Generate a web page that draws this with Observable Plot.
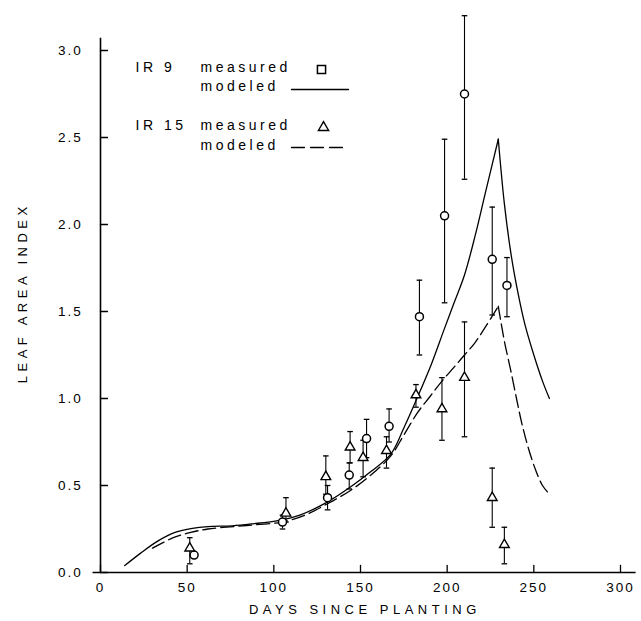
<!DOCTYPE html>
<html><head><meta charset="utf-8">
<script src="https://cdn.jsdelivr.net/npm/d3@7"></script>
<script src="https://cdn.jsdelivr.net/npm/@observablehq/plot@0.6"></script>
<style>
body{margin:0;background:#fff}
svg text{letter-spacing:2px}
</style></head><body><div id="chart"></div>
<script>
// ---- data ----
const xTicks = [0, 50, 100, 150, 200, 250, 300];
const yTicks = [0, 0.5, 1.0, 1.5, 2.0, 2.5, 3.0];
const xLabel = "DAYS SINCE PLANTING";
const yLabel = "LEAF AREA INDEX";

// IR 9 measured
const ir9Day = [54, 105, 131, 143.5, 153.5, 166.5, 184, 198.5, 210, 226, 234.5];
const ir9Lai = [0.10, 0.29, 0.43, 0.56, 0.77, 0.84, 1.47, 2.05, 2.75, 1.80, 1.65];
const ir9Lo  = [null, 0.25, 0.36, 0.48, 0.66, 0.75, 1.25, 1.55, 2.26, 1.48, 1.47];
const ir9Hi  = [null, 0.33, 0.50, 0.63, 0.88, 0.94, 1.68, 2.49, 3.20, 2.10, 1.81];
// IR 15 measured
const ir15Day = [51.5, 107, 130, 144, 151.5, 165, 182, 197, 210, 226, 233];
const ir15Lai = [0.14, 0.34, 0.55, 0.72, 0.66, 0.70, 1.02, 0.94, 1.12, 0.43, 0.16];
const ir15Lo  = [0.05, 0.29, 0.45, 0.63, 0.55, 0.60, 0.95, 0.76, 0.78, 0.26, 0.05];
const ir15Hi  = [0.20, 0.43, 0.67, 0.81, 0.76, 0.78, 1.08, 1.12, 1.44, 0.60, 0.26];

// IR 9 modeled (rise, fall)
const m9RiseDay = [14, 23, 33, 43, 53, 62, 76, 88, 103, 115, 130, 144, 156, 167.5, 175, 183, 191, 198, 204, 210, 216, 222, 229.5];
const m9RiseLai = [0.04, 0.11, 0.18, 0.23, 0.254, 0.264, 0.268, 0.28, 0.30, 0.33, 0.40, 0.49, 0.58, 0.68, 0.83, 1.01, 1.20, 1.39, 1.55, 1.71, 1.93, 2.18, 2.49];
const m9FallDay = [229.5, 233, 237, 241, 245, 250, 255, 259];
const m9FallLai = [2.49, 2.12, 1.82, 1.60, 1.42, 1.25, 1.10, 1.00];
// IR 15 modeled (rise, fall)
const m15RiseDay = [30, 42, 52, 62, 78, 90, 105, 118, 130, 144, 156, 167.5, 175, 183, 190, 197, 204, 210, 216, 222, 229.5];
const m15RiseLai = [0.14, 0.20, 0.23, 0.25, 0.265, 0.275, 0.29, 0.33, 0.39, 0.47, 0.56, 0.67, 0.79, 0.92, 1.01, 1.10, 1.18, 1.25, 1.32, 1.41, 1.53];
const m15FallDay = [229.5, 233, 236.5, 240, 243, 247, 251, 255, 259];
const m15FallLai = [1.53, 1.33, 1.17, 1.00, 0.86, 0.71, 0.59, 0.50, 0.45];

const legendNames = ["IR 9", "IR 15"];
const legendKinds = ["measured", "modeled"];

// ---- tables ----
const meas = (days, lai, lo, hi) => days.map((d, i) => ({day: d, lai: lai[i], lo: lo[i], hi: hi[i]}));
const m9 = meas(ir9Day, ir9Lai, ir9Lo, ir9Hi);
const m15 = meas(ir15Day, ir15Lai, ir15Lo, ir15Hi);
const errs = [...m9, ...m15].filter(d => d.lo != null);
const caps = errs.flatMap(d => [{day: d.day, v: d.lo}, {day: d.day, v: d.hi}]);
const seg = (days, lai, s) => days.map((d, i) => ({day: d, lai: lai[i], seg: s}));
const c9 = [...seg(m9RiseDay, m9RiseLai, "r"), ...seg(m9FallDay, m9FallLai, "f")];
const c15 = [...seg(m15RiseDay, m15RiseLai, "r"), ...seg(m15FallDay, m15FallLai, "f")];

const capSymbol = {draw(ctx) { ctx.moveTo(-2.8, 0); ctx.lineTo(2.8, 0); }};
const stick = {draw(ctx, l) { ctx.moveTo(0, 0); ctx.lineTo(0, -l); }};

const ML = 91.33, MT = 6.5, MB = 49;
const font = "'Liberation Sans', Arial, Helvetica, sans-serif";

const legText = (txt, x, y) => Plot.text([txt], {frameAnchor: "top-left", textAnchor: "start", lineAnchor: "middle", dx: x - ML, dy: y - MT, text: d => d, fontSize: 14, ariaDescription: "legend"});

const chart = Plot.plot({
  width: 641, height: 621,
  marginLeft: ML, marginRight: 3.67, marginTop: MT, marginBottom: MB,
  x: {domain: [-5, 310]},
  y: {domain: [0, 3.25]},
  style: {fontFamily: font, fontSize: "13.5px", color: "#000", background: "#fff"},
  marks: [
    Plot.axisX({ticks: xTicks, tickSize: 0, tickPadding: 10, tickFormat: d => String(d), label: null}),
    Plot.axisY({ticks: yTicks, tickSize: 0, tickPadding: 9, tickFormat: d3.format(".1f"), label: null}),
    // axis lines
    Plot.ruleY([0], {x1: -4.3, x2: 309, strokeWidth: 1.6}),
    Plot.ruleX([0], {y1: 0, y2: 3.07, strokeWidth: 1.6}),
    // inward ticks
    Plot.vector(xTicks, {x: d => d, y: 0, length: 7, rotate: 0, anchor: "start", shape: stick, strokeWidth: 1.3}),
    Plot.vector(yTicks, {x: 0, y: d => d, length: 7, rotate: 90, anchor: "start", shape: stick, strokeWidth: 1.3}),
    // modeled curves
    Plot.line(c9, {x: "day", y: "lai", z: "seg", curve: "catmull-rom", strokeWidth: 1.3}),
    Plot.line(c15, {x: "day", y: "lai", z: "seg", curve: "catmull-rom", strokeWidth: 1.3, strokeDasharray: "13,5"}),
    // error bars
    Plot.ruleX(errs, {x: "day", y1: "lo", y2: "hi", strokeWidth: 1.1}),
    Plot.dot(caps, {x: "day", y: "v", symbol: capSymbol, r: 3, stroke: "black", strokeWidth: 1.3}),
    // measured points
    Plot.dot(m9, {x: "day", y: "lai", r: 4, stroke: "black", fill: "white", strokeWidth: 1.5}),
    Plot.dot(m15, {x: "day", y: "lai", symbol: "triangle", r: 3.6, stroke: "black", fill: "white", strokeWidth: 1.4}),
    // axis titles
    Plot.text([yLabel], {frameAnchor: "left", textAnchor: "middle", lineAnchor: "middle", dx: 22.6 - ML, dy: 3, rotate: -90, text: d => d, fontSize: 13, ariaDescription: "title"}),
    Plot.text([xLabel], {frameAnchor: "bottom", textAnchor: "middle", lineAnchor: "middle", dx: 0, dy: 37, text: d => d, fontSize: 13, ariaDescription: "title"}),
    // legend
    legText(legendNames[0], 135, 67),
    legText(legendKinds[0], 200, 67),
    legText(legendKinds[1], 200, 86),
    legText(legendNames[1], 135, 125),
    legText(legendKinds[0], 200, 125),
    legText(legendKinds[1], 200, 145),
    Plot.dot([legendNames[0]], {frameAnchor: "top-left", dx: 321 - ML, dy: 69 - MT, symbol: "square", r: 4.6, stroke: "black", fill: "white", strokeWidth: 1.5}),
    Plot.dot([legendNames[1]], {frameAnchor: "top-left", dx: 323 - ML, dy: 127 - MT, symbol: "triangle", r: 3.8, stroke: "black", fill: "white", strokeWidth: 1.4}),
    Plot.vector([legendNames[0]], {frameAnchor: "top-left", dx: 291 - ML, dy: 89 - MT, length: 57, rotate: 90, anchor: "start", shape: stick, strokeWidth: 1.3}),
    Plot.vector([legendNames[1]], {frameAnchor: "top-left", dx: 291 - ML, dy: 147 - MT, length: 57, rotate: 90, anchor: "start", shape: stick, strokeWidth: 1.3, strokeDasharray: "13,6"})
  ]
});
d3.select(chart).selectAll("g[aria-description=title] text").style("letter-spacing", "4.5px");
d3.select(chart).selectAll("g[aria-description=legend] text").style("letter-spacing", "3.5px");
document.getElementById("chart").appendChild(chart);
</script></body></html>
